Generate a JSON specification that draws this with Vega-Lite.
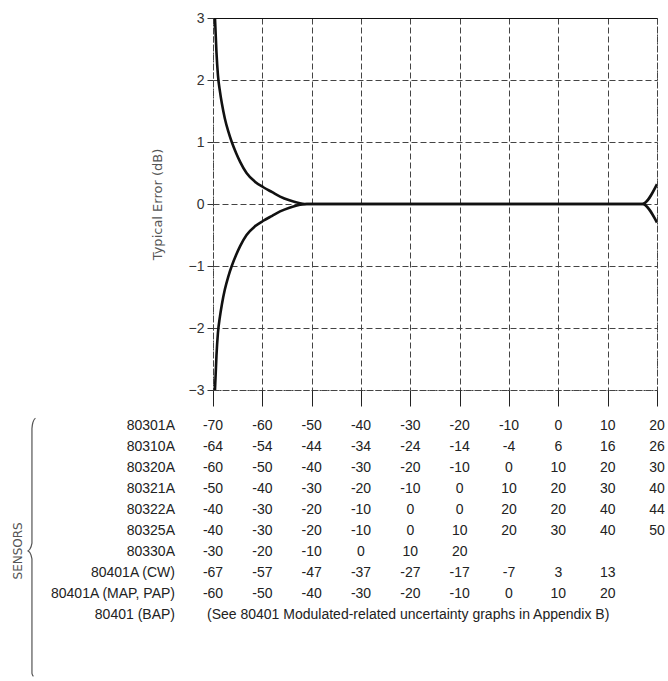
{
  "$schema": "https://vega.github.io/schema/vega-lite/v6.json",
  "background": "white",
  "padding": {"left": 11, "top": 10, "right": 0, "bottom": 0},
  "bounds": "flush",
  "spacing": 25,
  "config": {"font": "Liberation Sans"},
  "datasets": {
    "curves": [
      {"b": "upper", "x": -69.6, "y": 3.0},
      {"b": "upper", "x": -69.3, "y": 2.45},
      {"b": "upper", "x": -69.0, "y": 2.08},
      {"b": "upper", "x": -68.6, "y": 1.82},
      {"b": "upper", "x": -68.2, "y": 1.62},
      {"b": "upper", "x": -67.6, "y": 1.38},
      {"b": "upper", "x": -66.9, "y": 1.17},
      {"b": "upper", "x": -66.2, "y": 1.0},
      {"b": "upper", "x": -65.3, "y": 0.82},
      {"b": "upper", "x": -64.5, "y": 0.68},
      {"b": "upper", "x": -63.2, "y": 0.5},
      {"b": "upper", "x": -61.5, "y": 0.36},
      {"b": "upper", "x": -59.8, "y": 0.27},
      {"b": "upper", "x": -58.0, "y": 0.19},
      {"b": "upper", "x": -56.4, "y": 0.12},
      {"b": "upper", "x": -54.5, "y": 0.06},
      {"b": "upper", "x": -53.0, "y": 0.025},
      {"b": "upper", "x": -51.0, "y": 0.0},
      {"b": "upper", "x": 17.0, "y": 0.0},
      {"b": "upper", "x": 20.0, "y": 0.32},
      {"b": "lower", "x": -69.6, "y": -3.0},
      {"b": "lower", "x": -69.3, "y": -2.45},
      {"b": "lower", "x": -69.0, "y": -2.08},
      {"b": "lower", "x": -68.6, "y": -1.82},
      {"b": "lower", "x": -68.2, "y": -1.62},
      {"b": "lower", "x": -67.6, "y": -1.38},
      {"b": "lower", "x": -66.9, "y": -1.17},
      {"b": "lower", "x": -66.2, "y": -1.0},
      {"b": "lower", "x": -65.3, "y": -0.82},
      {"b": "lower", "x": -64.5, "y": -0.68},
      {"b": "lower", "x": -63.2, "y": -0.5},
      {"b": "lower", "x": -61.5, "y": -0.36},
      {"b": "lower", "x": -59.8, "y": -0.27},
      {"b": "lower", "x": -58.0, "y": -0.19},
      {"b": "lower", "x": -56.4, "y": -0.12},
      {"b": "lower", "x": -54.5, "y": -0.06},
      {"b": "lower", "x": -53.0, "y": -0.025},
      {"b": "lower", "x": -51.0, "y": 0.0},
      {"b": "lower", "x": 17.0, "y": 0.0},
      {"b": "lower", "x": 20.0, "y": -0.3}
    ],
    "table": [
      {"r": 0, "s": "80301A", "c": [-70, -60, -50, -40, -30, -20, -10, 0, 10, 20], "v": ["-70", "-60", "-50", "-40", "-30", "-20", "-10", "0", "10", "20"]},
      {"r": 1, "s": "80310A", "c": [-70, -60, -50, -40, -30, -20, -10, 0, 10, 20], "v": ["-64", "-54", "-44", "-34", "-24", "-14", "-4", "6", "16", "26"]},
      {"r": 2, "s": "80320A", "c": [-70, -60, -50, -40, -30, -20, -10, 0, 10, 20], "v": ["-60", "-50", "-40", "-30", "-20", "-10", "0", "10", "20", "30"]},
      {"r": 3, "s": "80321A", "c": [-70, -60, -50, -40, -30, -20, -10, 0, 10, 20], "v": ["-50", "-40", "-30", "-20", "-10", "0", "10", "20", "30", "40"]},
      {"r": 4, "s": "80322A", "c": [-70, -60, -50, -40, -30, -20, -10, 0, 10, 20], "v": ["-40", "-30", "-20", "-10", "0", "0", "20", "20", "40", "44"]},
      {"r": 5, "s": "80325A", "c": [-70, -60, -50, -40, -30, -20, -10, 0, 10, 20], "v": ["-40", "-30", "-20", "-10", "0", "10", "20", "30", "40", "50"]},
      {"r": 6, "s": "80330A", "c": [-70, -60, -50, -40, -30, -20], "v": ["-30", "-20", "-10", "0", "10", "20"]},
      {"r": 7, "s": "80401A (CW)", "c": [-70, -60, -50, -40, -30, -20, -10, 0, 10], "v": ["-67", "-57", "-47", "-37", "-27", "-17", "-7", "3", "13"]},
      {"r": 8, "s": "80401A (MAP, PAP)", "c": [-70, -60, -50, -40, -30, -20, -10, 0, 10], "v": ["-60", "-50", "-40", "-30", "-20", "-10", "0", "10", "20"]}
    ],
    "names": [
      {"r": 0, "s": "80301A"},
      {"r": 1, "s": "80310A"},
      {"r": 2, "s": "80320A"},
      {"r": 3, "s": "80321A"},
      {"r": 4, "s": "80322A"},
      {"r": 5, "s": "80325A"},
      {"r": 6, "s": "80330A"},
      {"r": 7, "s": "80401A (CW)"},
      {"r": 8, "s": "80401A (MAP, PAP)"},
      {"r": 9, "s": "80401 (BAP)"}
    ],
    "note": [
      {"r": 9, "c": -70, "t": "(See 80401 Modulated-related uncertainty graphs in Appendix B)"}
    ],
    "brace": [
      {"i": 0, "bx": -106.0, "by": -0.35},
      {"i": 1, "bx": -106.5, "by": -0.15},
      {"i": 2, "bx": -106.7, "by": 0.15},
      {"i": 3, "bx": -106.7, "by": 5.6},
      {"i": 4, "bx": -107.1, "by": 5.88},
      {"i": 5, "bx": -107.6, "by": 5.97},
      {"i": 6, "bx": -107.1, "by": 6.06},
      {"i": 7, "bx": -106.7, "by": 6.35},
      {"i": 8, "bx": -106.7, "by": 11.8},
      {"i": 9, "bx": -106.4, "by": 11.95}
    ]
  },
  "vconcat": [
    {
      "width": 444,
      "height": 372,
      "view": {"stroke": "#444", "strokeDash": [2, 2], "strokeWidth": 1},
      "data": {"name": "curves"},
      "mark": {"type": "line", "interpolate": "monotone", "color": "#111", "strokeWidth": 2.6, "clip": true},
      "encoding": {
        "x": {
          "field": "x", "type": "quantitative",
          "scale": {"domain": [-70, 20], "nice": false, "zero": false},
          "axis": {
            "values": [-70, -60, -50, -40, -30, -20, -10, 0, 10, 20],
            "labels": false, "domain": false, "title": null,
            "ticks": true, "tickSize": 16, "tickColor": "#222", "tickWidth": 1,
            "grid": true, "gridDash": [6, 3], "gridColor": "#444", "gridWidth": 1
          }
        },
        "y": {
          "field": "y", "type": "quantitative",
          "scale": {"domain": [-3, 3], "nice": false},
          "axis": {
            "values": [-3, -2, -1, 0, 1, 2, 3],
            "title": "Typical Error (dB)",
            "titleFont": "DejaVu Sans", "titleFontSize": 13, "titleFontWeight": "normal", "titleColor": "#555",
            "titleAngle": -90, "titleX": -56, "titleY": 186, "titleBaseline": "middle", "titleAlign": "center",
            "labelFont": "Liberation Sans", "labelFontSize": 14, "labelColor": "#333", "labelPadding": 3,
            "tickSize": 6, "tickColor": "#333", "domain": false,
            "grid": true,
            "gridDash": {"condition": {"test": "datum.value === 3", "value": []}, "value": [6, 3]},
            "gridColor": {"condition": {"test": "datum.value === 3", "value": "#111"}, "value": "#444"},
            "gridWidth": 1
          }
        },
        "detail": {"field": "b"}
      }
    },
    {
      "width": 444,
      "height": 210,
      "view": {"stroke": null},
      "encoding": {
        "x": {"type": "quantitative", "scale": {"domain": [-70, 20], "nice": false, "zero": false}, "axis": null},
        "y": {"type": "quantitative", "scale": {"domain": [-0.5, 9.5], "reverse": true, "nice": false, "zero": false}, "axis": null}
      },
      "layer": [
        {
          "data": {"name": "table"},
          "transform": [{"flatten": ["c", "v"]}],
          "mark": {"type": "text", "fontSize": 14, "color": "#222", "baseline": "middle", "align": "center"},
          "encoding": {
            "x": {"field": "c", "type": "quantitative"},
            "y": {"field": "r", "type": "quantitative"},
            "text": {"field": "v"}
          }
        },
        {
          "data": {"name": "names"},
          "mark": {"type": "text", "fontSize": 14, "color": "#222", "baseline": "middle", "align": "right", "dx": -38},
          "encoding": {
            "x": {"datum": -70, "type": "quantitative"},
            "y": {"field": "r", "type": "quantitative"},
            "text": {"field": "s"}
          }
        },
        {
          "data": {"name": "note"},
          "mark": {"type": "text", "fontSize": 14, "color": "#222", "baseline": "middle", "align": "left", "dx": -6},
          "encoding": {
            "x": {"field": "c", "type": "quantitative"},
            "y": {"field": "r", "type": "quantitative"},
            "text": {"field": "t"}
          }
        },
        {
          "data": {"name": "brace"},
          "mark": {"type": "line", "color": "#555", "strokeWidth": 1.2, "interpolate": "monotone", "clip": false},
          "encoding": {
            "x": {"field": "bx", "type": "quantitative"},
            "y": {"field": "by", "type": "quantitative"},
            "order": {"field": "i"}
          }
        },
        {
          "data": {"values": [{"label": "SENSORS", "r": 5.97}]},
          "mark": {"type": "text", "font": "DejaVu Sans", "fontSize": 12, "color": "#555", "angle": 270, "baseline": "middle", "align": "center"},
          "encoding": {
            "x": {"datum": -109.6, "type": "quantitative"},
            "y": {"field": "r", "type": "quantitative"},
            "text": {"field": "label"}
          }
        }
      ]
    }
  ]
}
